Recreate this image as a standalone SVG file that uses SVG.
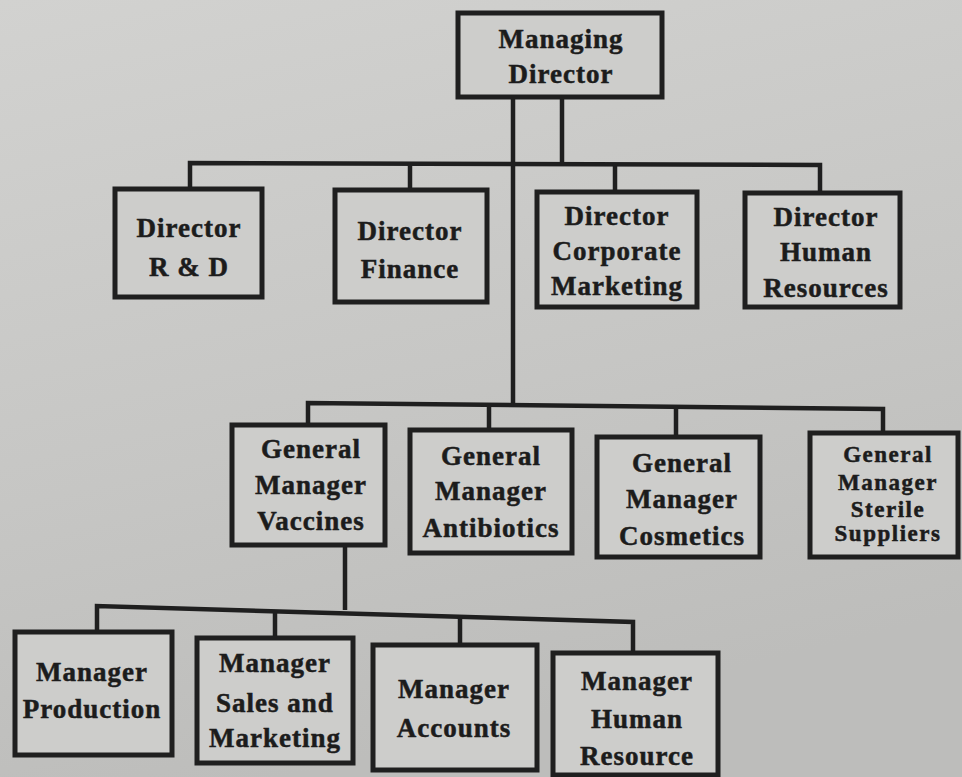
<svg xmlns="http://www.w3.org/2000/svg" width="962" height="777" viewBox="0 0 962 777">
<defs>
<linearGradient id="bg" x1="0" y1="0" x2="0.3" y2="1">
<stop offset="0" stop-color="#d2d2d0"/>
<stop offset="0.6" stop-color="#c6c6c4"/>
<stop offset="1" stop-color="#bdbdbb"/>
</linearGradient>
<style>
.box{fill:#cdcdcb;stroke:#1f1f1f;stroke-width:5;stroke-linejoin:miter}
.ln{fill:none;stroke:#1f1f1f;stroke-width:4.5;stroke-linejoin:miter}
text{font-family:"Liberation Serif","Times New Roman",serif;font-weight:bold;fill:#1c1c1c;stroke:#1c1c1c;stroke-width:0.5;text-anchor:middle;font-size:27px;letter-spacing:1px}
.sm{font-size:23px;letter-spacing:1.5px}
</style>
</defs>
<rect x="0" y="0" width="962" height="777" fill="url(#bg)"/>
<g id="connectors">
<polyline class="ln" points="562,97 562,164"/>
<polyline class="ln" points="513,97 513,405"/>
<polyline class="ln" points="190,189 190,163 820,165 820,193"/>
<polyline class="ln" points="410,164 410,190"/>
<polyline class="ln" points="615,164 615,192"/>
<polyline class="ln" points="308,425 308,403 883,409 883,433"/>
<polyline class="ln" points="489,405 489,430"/>
<polyline class="ln" points="676,407 676,437"/>
<polyline class="ln" points="345,545 345,610"/>
<polyline class="ln" points="97,632 97,606 633,622 633,653"/>
<polyline class="ln" points="275,611 275,638"/>
<polyline class="ln" points="460,617 460,645"/>
</g>
<g id="md"><rect class="box" x="458" y="13" width="204" height="84"/><text x="561" y="48">Managing</text><text x="561" y="83">Director</text></g>
<g id="d_rd"><rect class="box" x="115" y="189" width="147" height="108"/><text x="189" y="237">Director</text><text x="189" y="276">R &amp; D</text></g>
<g id="d_fin"><rect class="box" x="335" y="190" width="152" height="112"/><text x="410" y="240">Director</text><text x="410" y="278">Finance</text></g>
<g id="d_cm"><rect class="box" x="537" y="192" width="160" height="115"/><text x="617" y="225">Director</text><text x="617" y="260">Corporate</text><text x="617" y="295">Marketing</text></g>
<g id="d_hr"><rect class="box" x="745" y="193" width="155" height="114"/><text x="826" y="226">Director</text><text x="826" y="261">Human</text><text x="826" y="297">Resources</text></g>
<g id="gm_vac"><rect class="box" x="232" y="425" width="153" height="120"/><text x="311" y="458">General</text><text x="311" y="494">Manager</text><text x="311" y="530">Vaccines</text></g>
<g id="gm_ant"><rect class="box" x="410" y="430" width="162" height="123"/><text x="491" y="465">General</text><text x="491" y="500">Manager</text><text x="491" y="537">Antibiotics</text></g>
<g id="gm_cos"><rect class="box" x="597" y="437" width="163" height="120"/><text x="682" y="472">General</text><text x="682" y="508">Manager</text><text x="682" y="545">Cosmetics</text></g>
<g id="gm_ster"><rect class="box" x="810" y="433" width="148" height="124"/><text class="sm" x="888" y="462">General</text><text class="sm" x="888" y="490">Manager</text><text class="sm" x="888" y="517">Sterile</text><text class="sm" x="888" y="541">Suppliers</text></g>
<g id="m_prod"><rect class="box" x="15" y="632" width="157" height="123"/><text x="92" y="681">Manager</text><text x="92" y="718">Production</text></g>
<g id="m_sales"><rect class="box" x="197" y="638" width="156" height="125"/><text x="275" y="672">Manager</text><text x="275" y="712">Sales and</text><text x="275" y="747">Marketing</text></g>
<g id="m_acc"><rect class="box" x="373" y="645" width="164" height="125"/><text x="454" y="698">Manager</text><text x="454" y="737">Accounts</text></g>
<g id="m_hr"><rect class="box" x="553" y="653" width="165" height="122"/><text x="637" y="690">Manager</text><text x="637" y="728">Human</text><text x="637" y="765">Resource</text></g>
</svg>
